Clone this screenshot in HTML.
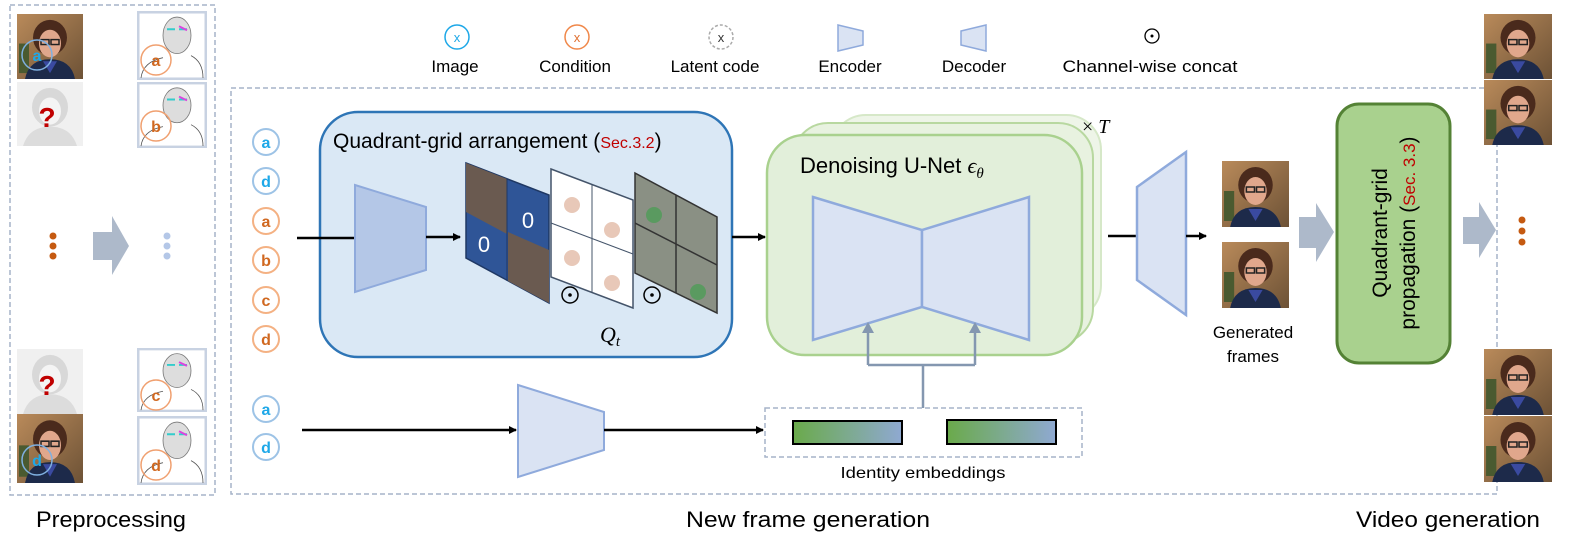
<!DOCTYPE html>
<html><head><meta charset="utf-8"><style>
html,body{margin:0;padding:0;background:#fff}
svg{display:block;font-family:"Liberation Sans",sans-serif}
</style></head><body>
<svg width="1578" height="544" viewBox="0 0 1578 544" xmlns="http://www.w3.org/2000/svg">
<defs>
<linearGradient id="bg" x1="0" y1="0" x2="1" y2="1"><stop offset="0" stop-color="#b98a5a"/><stop offset="1" stop-color="#6d5236"/></linearGradient>
<linearGradient id="emb" x1="0" y1="0" x2="1" y2="0"><stop offset="0" stop-color="#6aaa4a"/><stop offset="1" stop-color="#8fa9d2"/></linearGradient>
<symbol id="ph" viewBox="0 0 66 66" preserveAspectRatio="none">
<rect width="66" height="66" fill="url(#bg)"/>
<rect x="2" y="30" width="10" height="30" fill="#4a5a30"/>
<ellipse cx="33" cy="24" rx="17" ry="18" fill="#4a2a1c"/>
<ellipse cx="33" cy="30" rx="11" ry="14" fill="#e0a78c"/>
<rect x="24" y="26" width="8" height="5" fill="none" stroke="#222" stroke-width="1.5"/>
<rect x="34" y="26" width="8" height="5" fill="none" stroke="#222" stroke-width="1.5"/>
<path d="M8 66 Q12 46 33 46 Q54 46 58 66Z" fill="#1d2a4a"/>
<path d="M26 48 L33 60 L40 48Z" fill="#3a4aa0"/>
</symbol>
<symbol id="gh" viewBox="0 0 66 66" preserveAspectRatio="none">
<rect width="66" height="66" fill="#f0f0f0"/>
<ellipse cx="33" cy="26" rx="18" ry="20" fill="#d8d8d8"/>
<ellipse cx="33" cy="30" rx="11" ry="14" fill="#f4f4f4"/>
<path d="M6 66 Q12 46 33 46 Q54 46 60 66Z" fill="#dcdcdc"/>
</symbol>
<symbol id="sk" viewBox="0 0 70 68" preserveAspectRatio="none">
<rect x="1" y="1" width="68" height="66" fill="#fff" stroke="#c8d2e2" stroke-width="3"/>
<ellipse cx="40" cy="24" rx="14" ry="18" fill="#ddd" stroke="#777" stroke-width="0.8"/>
<path d="M30 18 l8 0 M42 18 l8 0" stroke="#3cc" stroke-width="2"/>
<path d="M42 15 l8 4" stroke="#d4d" stroke-width="2"/>
<path d="M4 66 Q6 50 26 46 M54 44 Q66 50 66 66" fill="none" stroke="#555" stroke-width="0.8"/>
</symbol>
<marker id="ar" markerWidth="8" markerHeight="8" refX="7" refY="4" orient="auto" markerUnits="userSpaceOnUse"><path d="M0,0 L8,4 L0,8Z" fill="#000"/></marker>
</defs>

<!-- Preprocessing box -->
<rect x="10" y="5" width="205" height="490" fill="none" stroke="#a6b4c8" stroke-width="1.5" stroke-dasharray="5,3"/>
<use href="#ph" x="17" y="14" width="66" height="65"/>
<use href="#gh" x="17" y="82" width="66" height="64"/>
<use href="#gh" x="17" y="349" width="66" height="65"/>
<use href="#ph" x="17" y="414" width="66" height="69"/>
<text x="47" y="127" font-size="28" font-weight="bold" fill="#c00000" text-anchor="middle">?</text>
<text x="47" y="395" font-size="28" font-weight="bold" fill="#c00000" text-anchor="middle">?</text>
<use href="#sk" x="137" y="11" width="70" height="69"/>
<use href="#sk" x="137" y="82" width="70" height="66"/>
<use href="#sk" x="137" y="348" width="70" height="64"/>
<use href="#sk" x="137" y="416" width="70" height="69"/>
<g font-size="16" font-weight="bold" text-anchor="middle">
<circle cx="37" cy="55" r="15" fill="none" stroke="#7fb0e0" stroke-width="1.5"/><text x="37" y="61" fill="#1ea8e8">a</text>
<circle cx="37" cy="460" r="15" fill="none" stroke="#7fb0e0" stroke-width="1.5"/><text x="37" y="466" fill="#1ea8e8">d</text>
<circle cx="156" cy="60" r="15" fill="none" stroke="#f0a070" stroke-width="1.5"/><text x="156" y="66" fill="#d06820">a</text>
<circle cx="156" cy="126" r="15" fill="none" stroke="#f0a070" stroke-width="1.5"/><text x="156" y="132" fill="#d06820">b</text>
<circle cx="156" cy="395" r="15" fill="none" stroke="#f0a070" stroke-width="1.5"/><text x="156" y="401" fill="#d06820">c</text>
<circle cx="156" cy="465" r="15" fill="none" stroke="#f0a070" stroke-width="1.5"/><text x="156" y="471" fill="#d06820">d</text>
</g>
<g fill="#c55a11"><circle cx="53" cy="236" r="3.5"/><circle cx="53" cy="246" r="3.5"/><circle cx="53" cy="256" r="3.5"/></g>
<g fill="#b4c7e7"><circle cx="167" cy="236" r="3.5"/><circle cx="167" cy="246" r="3.5"/><circle cx="167" cy="256" r="3.5"/></g>
<path d="M93 232 L112 232 L112 216 L129 246 L112 275 L112 260 L93 260Z" fill="#adb9ca"/>

<!-- Legend -->
<g font-size="17" text-anchor="middle">
<circle cx="457" cy="37" r="12" fill="#fff" stroke="#1ea8e8" stroke-width="1.5"/><text x="457" y="42" font-size="13" fill="#1ea8e8">x</text>
<text x="455" y="72" fill="#000">Image</text>
<circle cx="577" cy="37" r="12" fill="#fff" stroke="#f0884a" stroke-width="1.5"/><text x="577" y="42" font-size="13" fill="#e07030">x</text>
<text x="575" y="72" fill="#000">Condition</text>
<circle cx="721" cy="37" r="12" fill="#fff" stroke="#aaa" stroke-width="1.5" stroke-dasharray="3,2"/><text x="721" y="42" font-size="13" fill="#333">x</text>
<text x="715" y="72" fill="#000">Latent code</text>
<path d="M838 25 L863 31 L863 45 L838 51Z" fill="#dae3f3" stroke="#8faadc" stroke-width="1.5"/>
<text x="850" y="72">Encoder</text>
<path d="M961 31 L986 25 L986 51 L961 45Z" fill="#dae3f3" stroke="#8faadc" stroke-width="1.5"/>
<text x="974" y="72">Decoder</text>
<circle cx="1152" cy="36" r="7" fill="none" stroke="#000" stroke-width="1.3"/><circle cx="1152" cy="36" r="1.5"/>
<text x="1150" y="72" textLength="175" lengthAdjust="spacingAndGlyphs">Channel-wise concat</text>
</g>

<!-- Main box -->
<rect x="231" y="88" width="1266" height="406" fill="none" stroke="#a6b4c8" stroke-width="1.5" stroke-dasharray="5,3"/>

<!-- left circles -->
<g font-size="16" font-weight="bold" text-anchor="middle">
<circle cx="266" cy="142" r="13" fill="#fff" stroke="#9dc3e6" stroke-width="2"/><text x="266" y="148" fill="#1ea8e8">a</text>
<circle cx="266" cy="181" r="13" fill="#fff" stroke="#9dc3e6" stroke-width="2"/><text x="266" y="187" fill="#1ea8e8">d</text>
<circle cx="266" cy="221" r="13" fill="#fff" stroke="#f4b183" stroke-width="2"/><text x="266" y="227" fill="#d06820">a</text>
<circle cx="266" cy="260" r="13" fill="#fff" stroke="#f4b183" stroke-width="2"/><text x="266" y="266" fill="#d06820">b</text>
<circle cx="266" cy="300" r="13" fill="#fff" stroke="#f4b183" stroke-width="2"/><text x="266" y="306" fill="#d06820">c</text>
<circle cx="266" cy="339" r="13" fill="#fff" stroke="#f4b183" stroke-width="2"/><text x="266" y="345" fill="#d06820">d</text>
<circle cx="266" cy="409" r="13" fill="#fff" stroke="#9dc3e6" stroke-width="2"/><text x="266" y="415" fill="#1ea8e8">a</text>
<circle cx="266" cy="447" r="13" fill="#fff" stroke="#9dc3e6" stroke-width="2"/><text x="266" y="453" fill="#1ea8e8">d</text>
</g>

<!-- Quadrant box -->
<rect x="320" y="112" width="412" height="245" rx="38" fill="#dae8f5" stroke="#2e75b6" stroke-width="2.5"/>
<text x="333" y="148" font-size="21">Quadrant-grid arrangement (<tspan fill="#c00000" font-size="16">Sec.3.2</tspan>)</text>
<line x1="297" y1="238" x2="355" y2="238" stroke="#000" stroke-width="2.5"/>
<path d="M355 185 L426 207 L426 270 L355 292Z" fill="#b4c7e7" stroke="#8faadc" stroke-width="2"/>
<line x1="426" y1="237" x2="460" y2="237" stroke="#000" stroke-width="2.5" marker-end="url(#ar)"/>
<path d="M466 163 L549 195 L549 303 L466 258Z" fill="#2f5597" stroke="#1f3864" stroke-width="1.5"/>
<path d="M466 163 L507 179 L507 234 L466 212Z" fill="#6a5a50"/>
<path d="M508 232 L549 250 L549 303 L508 281Z" fill="#6a5a50"/>
<line x1="507" y1="179" x2="507" y2="281" stroke="#1f3864"/>
<text x="528" y="228" font-size="22" fill="#fff" text-anchor="middle">0</text>
<text x="484" y="252" font-size="22" fill="#fff" text-anchor="middle">0</text>
<path d="M551 169 L633 200 L633 308 L551 277Z" fill="#fff" stroke="#44546a" stroke-width="1.5"/>
<line x1="592" y1="184" x2="592" y2="292" stroke="#44546a"/>
<line x1="551" y1="223" x2="633" y2="254" stroke="#44546a"/>
<g fill="#e8c8b8"><circle cx="572" cy="205" r="8"/><circle cx="612" cy="230" r="8"/><circle cx="572" cy="258" r="8"/><circle cx="612" cy="283" r="8"/></g>
<path d="M635 173 L717 217 L717 313 L635 273Z" fill="#8a9084" stroke="#333" stroke-width="1.5"/>
<line x1="676" y1="195" x2="676" y2="293" stroke="#333" stroke-width="1.5"/>
<line x1="635" y1="223" x2="717" y2="265" stroke="#333" stroke-width="1.5"/>
<circle cx="654" cy="215" r="8" fill="#5a9a60"/><circle cx="698" cy="292" r="8" fill="#5a9a60"/>
<circle cx="570" cy="295" r="8" fill="none" stroke="#000" stroke-width="1.5"/><circle cx="570" cy="295" r="1.8"/>
<circle cx="652" cy="295" r="8" fill="none" stroke="#000" stroke-width="1.5"/><circle cx="652" cy="295" r="1.8"/>
<text x="600" y="342" font-size="22" font-style="italic" font-family="Liberation Serif,serif">Q<tspan font-size="15" dy="4">t</tspan></text>
<line x1="732" y1="237" x2="765" y2="237" stroke="#000" stroke-width="2.5" marker-end="url(#ar)"/>

<!-- UNet stack -->
<rect x="831" y="115" width="270" height="205" rx="35" fill="#eef5e8" stroke="#d6e8c8" stroke-width="2"/>
<rect x="793" y="123" width="300" height="220" rx="35" fill="#e8f2e0" stroke="#b8d8a0" stroke-width="2"/>
<rect x="767" y="135" width="315" height="220" rx="38" fill="#e2efda" stroke="#a9d18e" stroke-width="2.5"/>
<text x="1082" y="133" font-size="20" font-family="Liberation Serif,serif">× <tspan font-style="italic">T</tspan></text>
<text x="800" y="173" font-size="22">Denoising U-Net <tspan font-style="italic" font-family="Liberation Serif,serif">ϵ<tspan font-size="15" dy="5">θ</tspan></tspan></text>
<path d="M813 197 L922 230 L922 307 L813 340Z" fill="#dae3f3" stroke="#8faadc" stroke-width="2.5"/>
<path d="M1029 197 L922 230 L922 307 L1029 340Z" fill="#dae3f3" stroke="#8faadc" stroke-width="2.5"/>
<path d="M923 408 L923 365 M868 365 L975 365 M868 365 L868 330 M975 365 L975 330" fill="none" stroke="#8497b0" stroke-width="2.5"/>
<path d="M862 333 L868 322 L874 333Z M969 333 L975 322 L981 333Z" fill="#8497b0"/>

<!-- Identity -->
<line x1="302" y1="430" x2="516" y2="430" stroke="#000" stroke-width="2.5" marker-end="url(#ar)"/>
<path d="M518 385 L604 412 L604 450 L518 477Z" fill="#dae3f3" stroke="#8faadc" stroke-width="2"/>
<line x1="604" y1="430" x2="763" y2="430" stroke="#000" stroke-width="2.5" marker-end="url(#ar)"/>
<rect x="765" y="408" width="317" height="49" fill="none" stroke="#a6b4c8" stroke-width="1.5" stroke-dasharray="5,3"/>
<rect x="793" y="421" width="109" height="23" fill="url(#emb)" stroke="#000" stroke-width="2"/>
<rect x="947" y="420" width="109" height="24" fill="url(#emb)" stroke="#000" stroke-width="2"/>
<text x="923" y="478" font-size="16" text-anchor="middle" textLength="165" lengthAdjust="spacingAndGlyphs">Identity embeddings</text>

<!-- Decoder -->
<line x1="1108" y1="236" x2="1137" y2="236" stroke="#000" stroke-width="2.5"/>
<path d="M1137 187 L1186 152 L1186 315 L1137 280Z" fill="#dae3f3" stroke="#8faadc" stroke-width="2.5"/>
<line x1="1186" y1="236" x2="1206" y2="236" stroke="#000" stroke-width="2.5" marker-end="url(#ar)"/>
<use href="#ph" x="1222" y="161" width="67" height="66"/>
<use href="#ph" x="1222" y="242" width="67" height="66"/>
<text x="1253" y="338" font-size="17" text-anchor="middle">Generated</text>
<text x="1253" y="362" font-size="17" text-anchor="middle">frames</text>

<path d="M1299 217 L1316 217 L1316 203 L1334 232 L1316 262 L1316 248 L1299 248Z" fill="#adb9ca"/>
<rect x="1337" y="104" width="113" height="259" rx="22" fill="#a9d18e" stroke="#548235" stroke-width="3"/>
<g transform="translate(1393,233) rotate(-90)" font-size="21" text-anchor="middle">
<text x="0" y="-6">Quadrant-grid</text>
<text x="0" y="22">propagation (<tspan fill="#c00000" font-size="17">Sec. 3.3</tspan>)</text>
</g>
<path d="M1463 217 L1479 217 L1479 202 L1496 230 L1479 258 L1479 244 L1463 244Z" fill="#adb9ca"/>
<g fill="#c55a11"><circle cx="1522" cy="220" r="3.5"/><circle cx="1522" cy="231" r="3.5"/><circle cx="1522" cy="242" r="3.5"/></g>
<use href="#ph" x="1484" y="14" width="68" height="65"/>
<use href="#ph" x="1484" y="80" width="68" height="65"/>
<use href="#ph" x="1484" y="349" width="68" height="66"/>
<use href="#ph" x="1484" y="416" width="68" height="66"/>

<!-- bottom labels -->
<g font-size="22" text-anchor="middle">
<text x="111" y="527" textLength="150" lengthAdjust="spacingAndGlyphs">Preprocessing</text>
<text x="808" y="527" textLength="244" lengthAdjust="spacingAndGlyphs">New frame generation</text>
<text x="1448" y="527" textLength="184" lengthAdjust="spacingAndGlyphs">Video generation</text>
</g>
</svg>
</body></html>
